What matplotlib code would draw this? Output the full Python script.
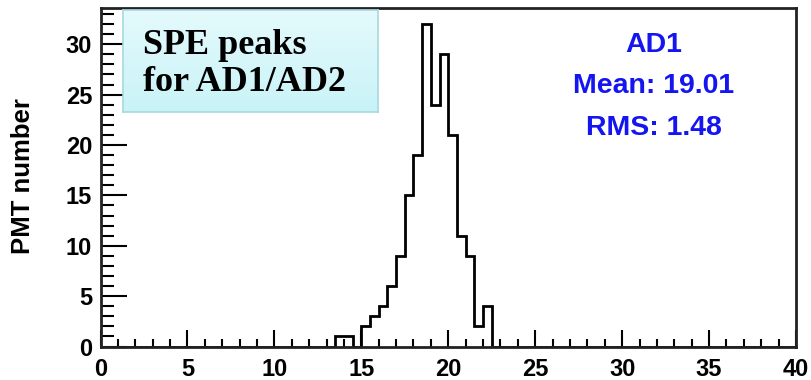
import numpy as np
import matplotlib
matplotlib.use("Agg")
import matplotlib.pyplot as plt
from matplotlib.colors import LinearSegmentedColormap

# Data: histogram of SPE peak positions (bin width 0.5)
bin_width = 0.5
x_range = (0, 40)
first_bin = 13.5
counts_nonzero = [1, 1, 0, 2, 3, 4, 6, 9, 15, 19, 32, 24, 29, 21, 11, 9, 2, 4]
xticks = [0, 5, 10, 15, 20, 25, 30, 35, 40]
yticks = [0, 5, 10, 15, 20, 25, 30]
title_lines = ["SPE peaks", "for AD1/AD2"]
stats_lines = ["AD1", "Mean: 19.01", "RMS: 1.48"]
ylabel = "PMT number"

edges = np.arange(x_range[0], x_range[1] + bin_width / 2, bin_width)
counts = np.zeros(len(edges) - 1)
i0 = int(round((first_bin - x_range[0]) / bin_width))
counts[i0:i0 + len(counts_nonzero)] = counts_nonzero

W, H = 811, 380
fig = plt.figure(figsize=(W / 100, H / 100), dpi=100)
L, R, T, B = 100.5, 796, 8, 346.5
ax = fig.add_axes([L / W, 1 - B / H, (R - L) / W, (B - T) / H])

ax.stairs(counts, edges, color="black", linewidth=2.0)
ax.set_xlim(*x_range)
ax.set_ylim(0, 33.6)

sans = ["Liberation Sans", "DejaVu Sans"]
ax.set_xticks(xticks)
ax.set_yticks(yticks)
ax.set_xticks(np.arange(0, 41, 1), minor=True)
ax.set_yticks(np.arange(0, 34, 1), minor=True)
ax.tick_params(axis="both", which="both", direction="in", top=False, right=False,
               colors="black", width=1.5)
ax.tick_params(axis="x", which="major", length=12, pad=8)
ax.tick_params(axis="x", which="minor", length=6)
ax.tick_params(axis="y", which="major", length=19, pad=6)
ax.tick_params(axis="y", which="minor", length=9)
for lab in ax.get_xticklabels() + ax.get_yticklabels():
    lab.set_family(sans)
    lab.set_fontweight("bold")
    lab.set_fontsize(17)
for s in ax.spines.values():
    s.set_linewidth(2.0)
    s.set_color("#222222")

fig.text(23 / W, 1 - 176 / H, ylabel, rotation=90, ha="center", va="center",
         family=sans, fontweight="bold", fontsize=18.5)

# Title box with a soft vertical gradient
bx0, bx1, by0, by1 = 123, 378, 10, 112
bax = fig.add_axes([bx0 / W, 1 - by1 / H, (bx1 - bx0) / W, (by1 - by0) / H], zorder=5)
cmap = LinearSegmentedColormap.from_list("cy", ["#e4fafc", "#c9f3f7"])
bax.imshow(np.linspace(0, 1, 64).reshape(-1, 1), aspect="auto", cmap=cmap,
           extent=[0, 1, 0, 1], origin="upper")
bax.set_xticks([])
bax.set_yticks([])
for s in bax.spines.values():
    s.set_color("#a6d9de")
    s.set_linewidth(1.2)

serif = ["Liberation Serif", "DejaVu Serif"]
fig.text(143 / W, 1 - 54 / H, title_lines[0], ha="left", va="baseline",
         family=serif, fontweight="bold", fontsize=26, zorder=6)
fig.text(143 / W, 1 - 91 / H, title_lines[1], ha="left", va="baseline",
         family=serif, fontweight="bold", fontsize=26, zorder=6)

# Stats text
for txt, yb in zip(stats_lines, [52, 93, 135]):
    fig.text(654 / W, 1 - yb / H, txt, ha="center", va="baseline",
             family=sans, fontweight="bold", fontsize=20.5, color="#1515f0")

fig.savefig("out.png", dpi=100)
